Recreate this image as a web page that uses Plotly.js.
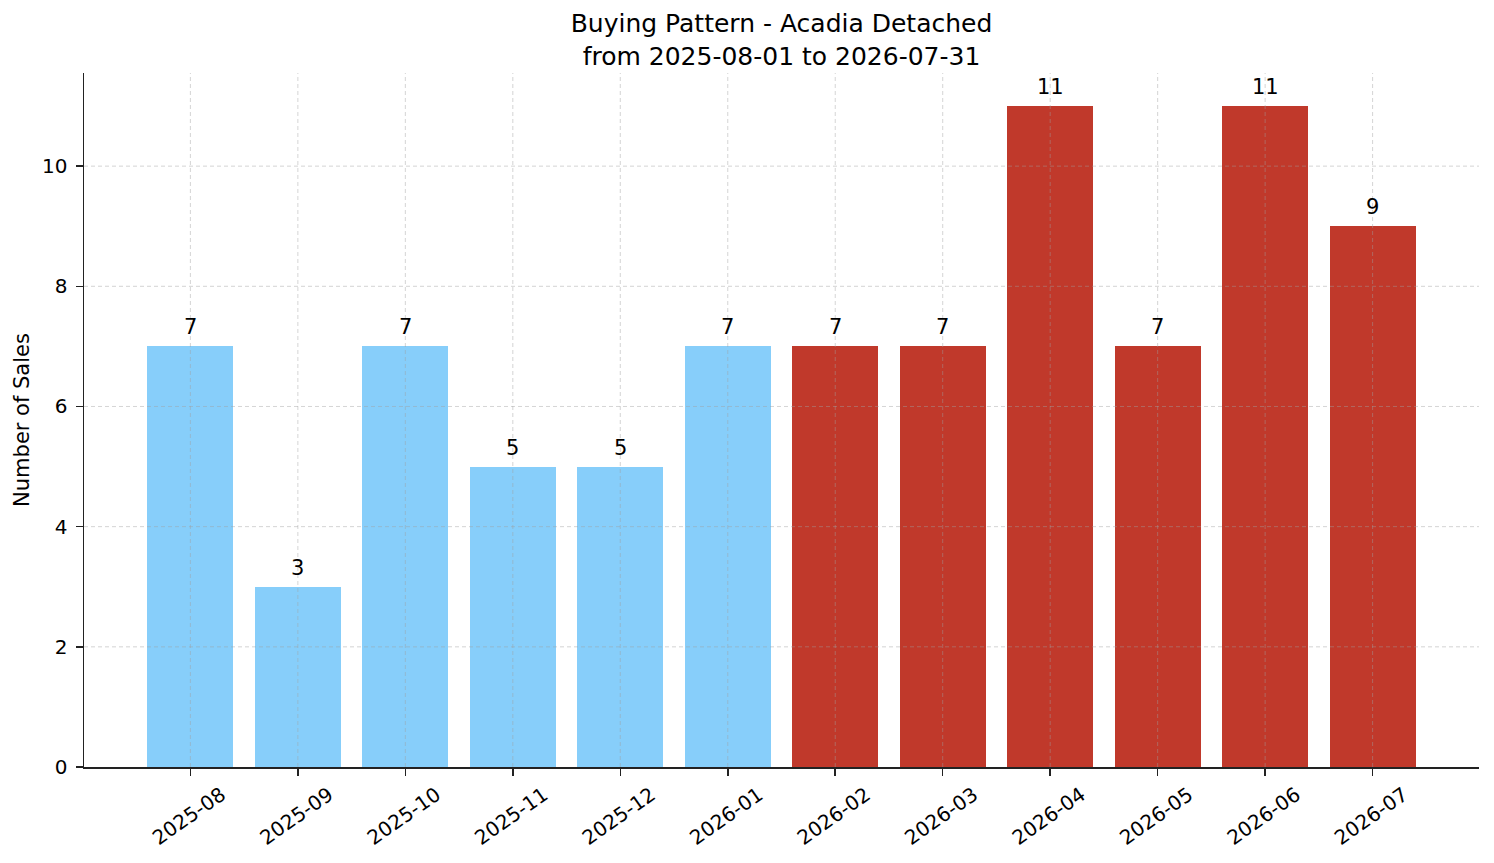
<!DOCTYPE html>
<html>
<head>
<meta charset="utf-8">
<script src="https://cdn.plot.ly/plotly-3.0.1.min.js"></script>
<style>html,body{margin:0;padding:0;background:#fff;}#chart{width:1494px;height:863px;}</style>
</head>
<body>
<div id="chart"></div>
<script>
const months = ["2025-08","2025-09","2025-10","2025-11","2025-12","2026-01","2026-02","2026-03","2026-04","2026-05","2026-06","2026-07"];
const sales = [7,3,7,5,5,7,7,7,11,7,11,9];
const periodGroup = ["past","past","past","past","past","past","future","future","future","future","future","future"];
const yTicks = [0,2,4,6,8,10];
const colorMap = {past:"#87CEFA", future:"#C0392B"};

const FONT = "DejaVu Sans, sans-serif";
const idx = months.map((m,i)=>i);

const trace = {
  type: "bar",
  x: idx,
  y: sales,
  width: 0.8,
  marker: {color: periodGroup.map(g=>colorMap[g]), line:{width:0}},
  hoverinfo: "skip"
};

const gridStyle = {color:"rgba(160,160,160,0.5)", width:0.9, dash:"4px,3px"};
const shapes = [];
idx.forEach(i=>shapes.push({type:"line", layer:"above", xref:"x", yref:"paper", x0:i, x1:i, y0:0, y1:1, line:gridStyle}));
yTicks.filter(v=>v>0).forEach(v=>shapes.push({type:"line", layer:"above", xref:"paper", yref:"y", x0:0, x1:1, y0:v, y1:v, line:gridStyle}));

const annotations = sales.map((v,i)=>({
  x: i, y: v, xref:"x", yref:"y", text: String(v), showarrow:false,
  yanchor:"bottom", yshift: 5, font:{family:FONT, size:21, color:"#000"}
}));

const layout = {
  width: 1494, height: 863,
  paper_bgcolor:"#fff", plot_bgcolor:"#fff",
  margin:{l:84, r:15, t:73, b:96, pad:0},
  showlegend:false,
  font:{family:FONT, size:21, color:"#000"},
  title:{
    text:"Buying Pattern - Acadia Detached<br>from 2025-08-01 to 2026-07-31",
    font:{family:FONT, size:25, color:"#000"},
    x:0.5, xanchor:"center", xref:"paper",
    y:1, yanchor:"bottom", yref:"paper",
    pad:{b:41}
  },
  xaxis:{
    range:[-0.99, 11.99],
    tickmode:"array", tickvals:idx, ticktext:months,
    tickangle:-35, ticklabelshift:31,
    showgrid:false, zeroline:false,
    showline:true, linecolor:"#222", linewidth:1.5,
    ticks:"outside", ticklen:7, tickwidth:1.5, tickcolor:"#222",
    tickfont:{family:FONT, size:20, color:"#000"},
    fixedrange:true
  },
  yaxis:{
    range:[0, 11.55],
    tickmode:"array", tickvals:yTicks, ticktext:yTicks.map(String),
    showgrid:false, zeroline:false,
    showline:true, linecolor:"#222", linewidth:1.5,
    ticks:"outside", ticklen:7, tickwidth:1.5, tickcolor:"#222",
    ticklabelstandoff:4,
    tickfont:{family:FONT, size:20, color:"#000"},
    title:{text:"Number of Sales", font:{family:FONT, size:21, color:"#000"}, standoff:6},
    fixedrange:true
  },
  shapes: shapes,
  annotations: annotations,
  bargap: 0
};

Plotly.newPlot("chart", [trace], layout, {displayModeBar:false, staticPlot:true});
</script>
</body>
</html>
